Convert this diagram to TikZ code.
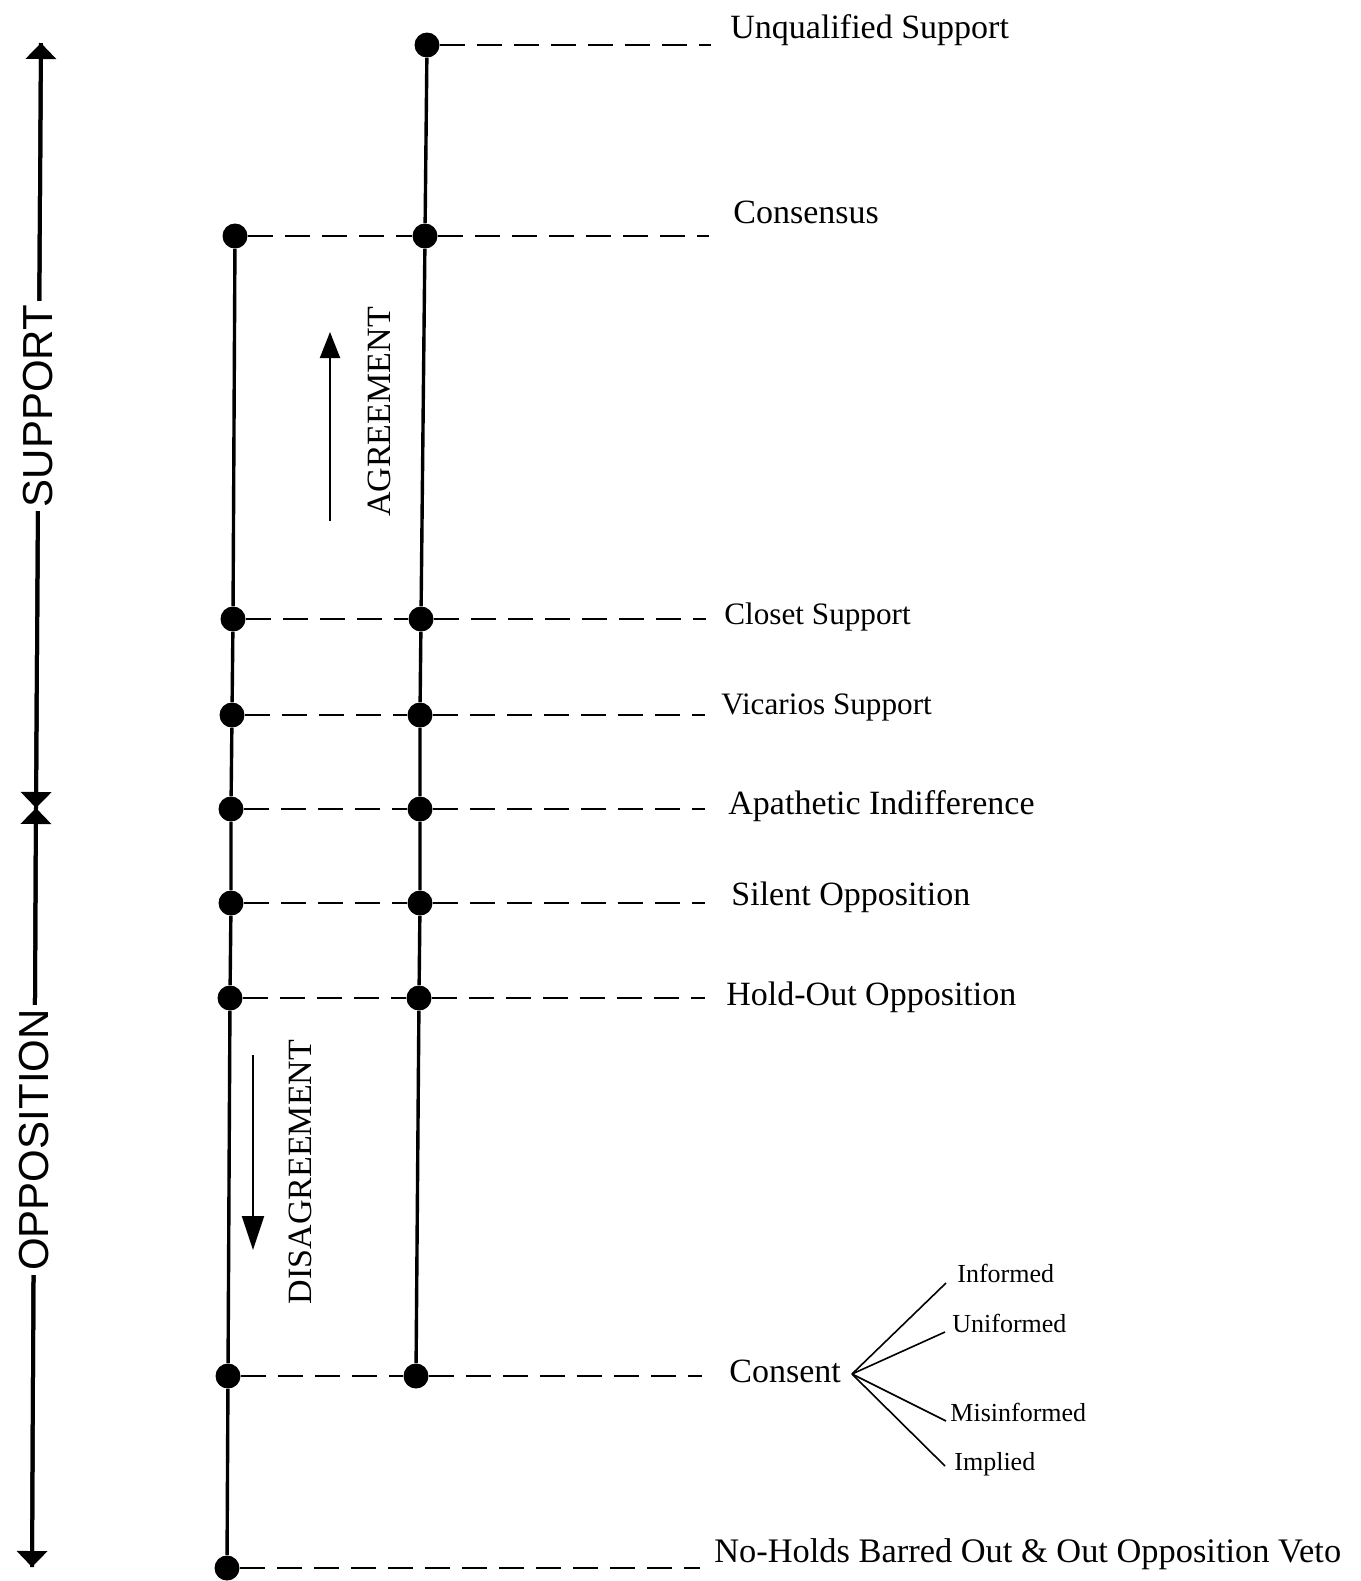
\documentclass[tikz,border=0pt]{standalone}
\usepackage{fontspec}
\setmainfont{Liberation Serif}
\newfontfamily\axisfont{Liberation Sans}
\usepackage{tikz}
\usetikzlibrary{arrows.meta, positioning}
\tikzstyle{stagedot} = [circle, fill=black, inner sep=0pt, minimum size=12.5pt]
\tikzstyle{column} = [line width=1.7pt]
\tikzstyle{guide} = [line width=1.2pt, dash pattern=on 12.5pt off 6pt]
\tikzstyle{branch} = [line width=0.8pt]
\tikzstyle{stage} = [anchor=base west, inner sep=0pt, font=\fontsize{17}{20}\selectfont]
\tikzstyle{smallstage} = [anchor=base west, inner sep=0pt, font=\fontsize{15.6}{18}\selectfont]
\tikzstyle{kind} = [anchor=base west, inner sep=0pt, font=\fontsize{13}{15}\selectfont]
\tikzstyle{axis} = [line width=2pt, -{Triangle[width=15pt,length=8pt]}]
\tikzstyle{axislabel} = [rotate=90, fill=white, inner sep=2pt, font=\axisfont\fontsize{21}{24}\selectfont]
\tikzstyle{trend} = [line width=1pt, -{Triangle[width=10pt,length=13pt]}]
\tikzstyle{trendlabel} = [rotate=90, inner sep=0pt, font=\fontsize{17}{20}\selectfont]

\begin{document}
\begin{tikzpicture}[x=0.5pt, y=-0.5pt]
    \useasboundingbox (0,0) rectangle (1361,1581);

    % Support / opposition axis
    \coordinate (ax_top) at (41,43);
    \coordinate (ax_mid) at (36,808);
    \coordinate (ax_bot) at (32,1567);
    \draw[axis] (ax_mid) -- (ax_top);
    \draw[axis] (ax_top) -- (ax_mid);
    \draw[axis] (ax_mid) -- (ax_bot);
    \draw[axis] (ax_bot) -- (ax_mid);
    \node[axislabel] (support) at (38,406) {SUPPORT};
    \node[axislabel] (opposition) at (34,1140) {OPPOSITION};

    % Right column
    \node[stagedot] (r_uq) at (427,45) {};
    \node[stagedot] (r_cons) at (425,236) {};
    \node[stagedot] (r_clos) at (421,619) {};
    \node[stagedot] (r_vic) at (420,715) {};
    \node[stagedot] (r_apa) at (420,809) {};
    \node[stagedot] (r_sil) at (420,903) {};
    \node[stagedot] (r_hold) at (419,998) {};
    \node[stagedot] (r_cnt) at (416,1376) {};

    % Left column
    \node[stagedot] (l_cons) at (235,236) {};
    \node[stagedot] (l_clos) at (233,619) {};
    \node[stagedot] (l_vic) at (232,715) {};
    \node[stagedot] (l_apa) at (231,809) {};
    \node[stagedot] (l_sil) at (231,903) {};
    \node[stagedot] (l_hold) at (230,998) {};
    \node[stagedot] (l_cnt) at (228,1376) {};
    \node[stagedot] (l_veto) at (227,1568) {};

    \draw[column] (r_uq) -- (r_cons) -- (r_clos) -- (r_vic) -- (r_apa) -- (r_sil) -- (r_hold) -- (r_cnt);
    \draw[column] (l_cons) -- (l_clos) -- (l_vic) -- (l_apa) -- (l_sil) -- (l_hold) -- (l_cnt) -- (l_veto);

    % Guide lines
    \coordinate (e_uq) at (711,45);
    \coordinate (e_cons) at (709,236);
    \coordinate (e_clos) at (706,619);
    \coordinate (e_vic) at (705,715);
    \coordinate (e_apa) at (705,809);
    \coordinate (e_sil) at (705,903);
    \coordinate (e_hold) at (705,998);
    \coordinate (e_cnt) at (702,1376);
    \coordinate (e_veto) at (700,1568);
    \draw[guide] (r_uq) -- (e_uq);
    \draw[guide] (l_cons) -- (r_cons) -- (e_cons);
    \draw[guide] (l_clos) -- (r_clos) -- (e_clos);
    \draw[guide] (l_vic) -- (r_vic) -- (e_vic);
    \draw[guide] (l_apa) -- (r_apa) -- (e_apa);
    \draw[guide] (l_sil) -- (r_sil) -- (e_sil);
    \draw[guide] (l_hold) -- (r_hold) -- (e_hold);
    \draw[guide] (l_cnt) -- (r_cnt) -- (e_cnt);
    \draw[guide] (l_veto) -- (e_veto);

    % Stage labels
    \node[stage] (uq) at (730,38) {Unqualified Support};
    \node[stage] (cons) at (733,223) {Consensus};
    \node[smallstage] (clos) at (724,624) {Closet Support};
    \node[smallstage] (vic) at (721,714) {Vicarios Support};
    \node[stage] (apa) at (728,814) {Apathetic Indifference};
    \node[stage] (sil) at (731,905) {Silent Opposition};
    \node[stage] (hold) at (726,1005) {Hold-Out Opposition};
    \node[stage] (cnt) at (729,1382) {Consent};
    \node[stage, font=\fontsize{17.2}{20}\selectfont] (veto) at (714,1562) {No-Holds Barred Out \& Out Opposition Veto};

    % Kinds of consent
    \coordinate (fork) at (852,1374);
    \coordinate (inf_end) at (946,1283);
    \coordinate (uninf_end) at (945,1332);
    \coordinate (misinf_end) at (946,1421);
    \coordinate (impl_end) at (945,1466);
    \node[kind] (inf) at (957,1282) {Informed};
    \node[kind] (uninf) at (952,1332) {Uniformed};
    \node[kind] (misinf) at (950,1421) {Misinformed};
    \node[kind] (impl) at (954,1470) {Implied};
    \draw[branch] (fork) -- (inf_end);
    \draw[branch] (fork) -- (uninf_end);
    \draw[branch] (fork) -- (misinf_end);
    \draw[branch] (fork) -- (impl_end);

    % Agreement / disagreement
    \coordinate (agr_start) at (330,521);
    \coordinate (agr_end) at (330,332);
    \draw[trend] (agr_start) -- (agr_end);
    \node[trendlabel] (agr) at (379,412) {AGREEMENT};
    \coordinate (dis_start) at (253,1055);
    \coordinate (dis_end) at (253,1250);
    \draw[trend, -{Triangle[width=11pt,length=17pt]}] (dis_start) -- (dis_end);
    \node[trendlabel] (dis) at (300,1172) {DISAGREEMENT};
\end{tikzpicture}
\end{document}
